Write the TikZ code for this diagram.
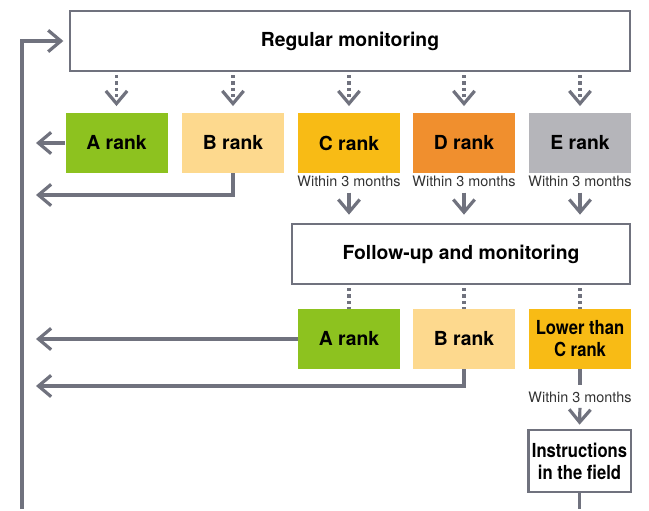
\documentclass[tikz,border=0pt]{standalone}
\usepackage{fontspec}
\setmainfont{TeX Gyre Heros}
\newfontfamily\narrowfont[FakeStretch=0.86]{TeX Gyre Heros}
\usetikzlibrary{arrows.meta,positioning}
\definecolor{linegray}{RGB}{112,114,126}
\definecolor{rankA}{RGB}{141,194,31}
\definecolor{rankB}{RGB}{253,217,142}
\definecolor{rankC}{RGB}{248,187,21}
\definecolor{rankD}{RGB}{240,143,46}
\definecolor{rankE}{RGB}{181,181,186}

\begin{document}
\begin{tikzpicture}[x=0.75pt,y=-0.75pt,
  flowbox/.style={draw=linegray, line width=2pt, fill=white, minimum height=45pt,
    font=\bfseries\fontsize{14.5}{16}\selectfont, inner sep=2pt},
  rankbox/.style={minimum width=76.5pt, minimum height=45pt, inner sep=1pt, align=center,
    font=\bfseries\fontsize{14.5}{16}\selectfont},
  narrow/.style={font=\narrowfont\bfseries\fontsize{14.5}{16.5}\selectfont},
  note/.style={font=\fontsize{10.8}{12}\selectfont, text=black!80, inner sep=1pt},
  plain/.style={draw=linegray, line width=2.4pt},
  link/.style={plain, -{Straight Barb[length=9.5pt,width=16pt,line width=2.4pt]}},
  dots/.style={dash pattern=on 2.4pt off 2.4pt}]
  % page
  \fill[white] (0,0) rectangle (649,509);
  \coordinate (ret) at (36,0);
  \coordinate (ret1) at (36,195);
  \coordinate (ret2) at (36,386);
  \coordinate (loopend) at (22,509);
  % regular monitoring and first ranks
  \node[flowbox, minimum width=420pt] (reg) at (350,41) {Regular monitoring};
  \foreach \n/\x/\c/\t in {a1/116.5/rankA/A rank, b1/233/rankB/B rank,
      c1/349/rankC/C rank, d1/464/rankD/D rank, e1/580/rankE/E rank} {
    \node[rankbox, fill=\c] (\n) at (\x,143) {\t};
    \draw[link, dots, shorten <=2pt, shorten >=5pt] (reg.south -| \n) -- (\n.north);
  }
  \node[flowbox, minimum width=253.5pt] (fol) at (461,254) {Follow-up and monitoring};
  \foreach \n in {c1,d1,e1} {
    \node[note, below=1pt of \n] (w\n) {Within 3 months};
    \draw[link, shorten <=3pt, shorten >=6pt] (w\n.south) -- (fol.north -| \n);
  }
  \draw[link] (a1.west) -- (a1.west -| ret);
  \draw[link] (b1.south) |- (ret1);
  % follow-up ranks
  \foreach \n/\x/\c/\t in {a2/349/rankA/A rank, b2/464/rankB/B rank} {
    \node[rankbox, fill=\c] (\n) at (\x,339) {\t};
    \draw[plain, dots, shorten <=2pt] (fol.south -| \n) -- (\n.north);
  }
  \node[rankbox, narrow, fill=rankC] (lc) at (580,339) {Lower than\\C rank};
  \draw[plain, dots, shorten <=2pt] (fol.south -| lc) -- (lc.north);
  \draw[link] (a2.west) -- (a2.west -| ret);
  \draw[link] (b2.south) |- (ret2);
  \node[note] (w4) at (580,397) {Within 3 months};
  \node[flowbox, narrow, minimum width=77pt, minimum height=46.5pt, align=center,
    inner sep=1pt] (ins) at (579.5,461) {Instructions\\in the field};
  \draw[plain, shorten >=4pt] (lc.south) -- (w4.north);
  \draw[link, shorten <=3pt, shorten >=3pt] (w4.south) -- (ins.north);
  \draw[plain] (ins.south) -- (ins.south |- loopend);
  % loop back to the top
  \draw[link, shorten >=4pt] (loopend) |- (reg.west);
\end{tikzpicture}
\end{document}
